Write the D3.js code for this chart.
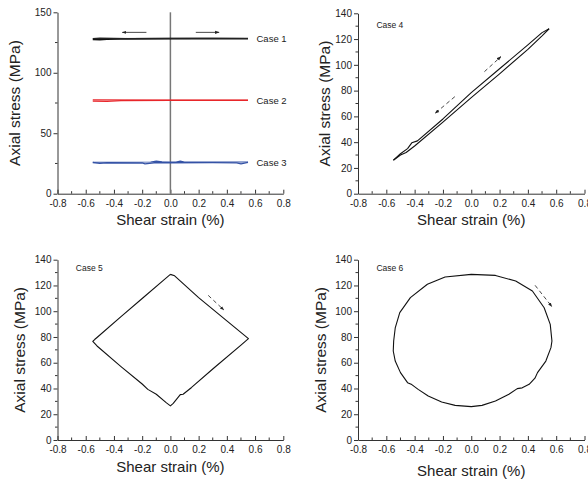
<!DOCTYPE html>
<html>
<head>
<meta charset="utf-8">
<script src="https://cdn.jsdelivr.net/npm/d3@7"></script>
<style>
body { margin: 0; background: #fff; }
svg { display: block; font-family: Arial, "Liberation Sans", sans-serif; }
</style>
</head>
<body>
<div id="chart"></div>
<script>
// ---- values ----
var xTicks = [-0.8, -0.6, -0.4, -0.2, 0.0, 0.2, 0.4, 0.6, 0.8];
var yTicksTop = [0, 50, 100, 150];
var yTicksOther = [0, 20, 40, 60, 80, 100, 120, 140];

// case 1-3 : constant axial stress, shear strain cycled
var case1Fwd = [[-0.55, 127.6], [-0.5, 127.3], [-0.45, 127.7], [-0.35, 128.0], [0, 128.2], [0.3, 128.2], [0.55, 128.1]];
var case1Back = [[0.55, 128.4], [0.2, 128.4], [-0.3, 128.3], [-0.5, 128.6], [-0.55, 128.2]];
var case2Fwd = [[-0.55, 76.6], [-0.45, 76.4], [-0.35, 76.9], [0, 77.1], [0.55, 77.2]];
var case2Back = [[0.55, 77.5], [0, 77.5], [-0.55, 77.6]];
var case3Fwd = [[-0.55, 25.8], [-0.5, 25.0], [-0.45, 25.6], [-0.2, 25.4], [-0.18, 24.7], [-0.1, 25.8], [0, 25.6], [0.3, 25.7], [0.47, 25.5], [0.5, 24.7], [0.55, 25.9]];
var case3Back = [[0.55, 26.2], [0.1, 26.1], [0.07, 26.9], [0.04, 26.2], [-0.06, 26.3], [-0.1, 27.0], [-0.14, 26.2], [-0.55, 26.0]];

// case 4 : in-phase loading
var case4Up = [[-0.55, 26], [-0.5, 31], [-0.45, 35], [-0.42, 39.5], [-0.38, 41], [-0.2, 58], [0, 78.5], [0.2, 97], [0.4, 115.5], [0.5, 125], [0.55, 128]];
var case4Down = [[0.55, 128], [0.5, 122.5], [0.4, 112], [0.2, 93], [0, 74.5], [-0.2, 55.5], [-0.4, 37], [-0.46, 32], [-0.5, 30], [-0.55, 26]];

// case 5 : diamond path
var case5Loop = [[0, 128.6], [0.03, 127.5], [0.2, 110.6], [0.4, 92.5], [0.553, 78.7], [0.5, 73.7], [0.3, 55.1],
  [0.15, 40.8], [0.09, 35.5], [0.07, 35.2], [0.05, 32.5], [0.02, 28.5], [0, 26.5], [-0.03, 29], [-0.1, 35.5],
  [-0.16, 39.3], [-0.2, 43.5], [-0.35, 57], [-0.52, 73], [-0.55, 76.5], [-0.535, 78.2], [-0.52, 79.6],
  [-0.35, 95.8], [-0.2, 109.9], [-0.05, 124], [0, 128.6]];

// case 6 : circular path
var case6Loop = [[-0.548, 76.9], [-0.537, 87], [-0.505, 98.9], [-0.43, 110.5], [-0.31, 120.9], [-0.185, 126.6],
  [0, 128.6], [0.171, 127.8], [0.314, 123.4], [0.432, 115.7], [0.515, 102.7], [0.558, 89.8], [0.57, 76.9],
  [0.563, 71.7], [0.527, 61.3], [0.468, 52.3], [0.45, 48], [0.409, 43.2], [0.36, 40.5], [0.325, 39.9],
  [0.266, 35.5], [0.171, 30.3], [0.076, 26.9], [0, 25.9], [-0.114, 26.9], [-0.209, 29.5], [-0.304, 34.2],
  [-0.375, 39.3], [-0.42, 43], [-0.45, 44.5], [-0.5, 52.3], [-0.537, 61.3], [-0.551, 69.1], [-0.548, 76.9]];

// direction arrows [from, to]
var arrows1 = [[[-0.17, 133.4], [-0.34, 133.4]], [[0.18, 133.4], [0.345, 133.4]]];
var arrows4 = [[[0.093, 94.7], [0.21, 106.4]], [[-0.116, 75.3], [-0.255, 62.4]]];
var arrows5 = [[[0.268, 112.3], [0.379, 100.9]]];
var arrows6 = [[[0.451, 120.1], [0.57, 103.5]]];

var panels = [
  { xr: [57.5, 283.3], yr: [193.7, 12.3], ymax: 150, yticks: yTicksTop, yminor: 25, titleX: 15, xTitleY: 225,
    series: [{ d: case1Fwd, c: "#111", w: 1.6 }, { d: case1Back, c: "#222", w: 1.2 },
             { d: case2Fwd, c: "#e8262b", w: 1.3 }, { d: case2Back, c: "#e8262b", w: 1.2 },
             { d: case3Fwd, c: "#3553a6", w: 1.3 }, { d: case3Back, c: "#3553a6", w: 1.2 }],
    labels: [{ t: "Case 1", x: 0.61, y: 128 }, { t: "Case 2", x: 0.61, y: 77 }, { t: "Case 3", x: 0.61, y: 26 }],
    arrows: arrows1, dashed: false, zeroLine: true },
  { xr: [358, 584.5], yr: [193.7, 13.3], ymax: 140, yticks: yTicksOther, yminor: 10, titleX: 325, xTitleY: 225,
    series: [{ d: case4Up, c: "#111", w: 1.1 }, { d: case4Down, c: "#111", w: 1.1 }],
    labels: [{ t: "Case 4", x: -0.67, y: 131, small: true }], arrows: arrows4, dashed: true },
  { xr: [57.5, 283.3], yr: [440, 259.7], ymax: 140, yticks: yTicksOther, yminor: 10, titleX: 20, xTitleY: 472,
    series: [{ d: case5Loop, c: "#111", w: 1.1 }],
    labels: [{ t: "Case 5", x: -0.67, y: 133.8, small: true }], arrows: arrows5, dashed: true },
  { xr: [358, 584.5], yr: [440, 259.7], ymax: 140, yticks: yTicksOther, yminor: 10, titleX: 321, xTitleY: 476,
    series: [{ d: case6Loop, c: "#111", w: 1.1 }],
    labels: [{ t: "Case 6", x: -0.67, y: 133.8, small: true }], arrows: arrows6, dashed: true }
];

var svg = d3.select("#chart").append("svg")
  .attr("width", 588).attr("height", 482);

svg.append("defs").append("marker")
  .attr("id", "head")
  .attr("viewBox", "0 0 10 10")
  .attr("refX", 9).attr("refY", 5)
  .attr("markerWidth", 5).attr("markerHeight", 5)
  .attr("orient", "auto")
  .append("path").attr("d", "M0,1.5L10,5L0,8.5Z").attr("fill", "#222");

var axisColor = "#333";

panels.forEach(function (p) {
  var x = d3.scaleLinear().domain([-0.8, 0.8]).range(p.xr);
  var y = d3.scaleLinear().domain([0, p.ymax]).range(p.yr);
  var g = svg.append("g");

  // minor ticks
  var xMinor = d3.range(-0.8, 0.81, 0.1).filter(function (v) { return Math.abs(Math.round(v * 10) % 2) === 1; });
  var yMinor = d3.range(p.yminor, p.ymax, p.yminor * 2);
  g.selectAll(".xm").data(xMinor).enter().append("line")
    .attr("x1", function (d) { return x(d); }).attr("x2", function (d) { return x(d); })
    .attr("y1", p.yr[0]).attr("y2", p.yr[0] - 2.5)
    .attr("stroke", axisColor).attr("stroke-width", 1);
  g.selectAll(".ym").data(yMinor).enter().append("line")
    .attr("x1", p.xr[0]).attr("x2", p.xr[0] - 2.5)
    .attr("y1", function (d) { return y(d); }).attr("y2", function (d) { return y(d); })
    .attr("stroke", axisColor).attr("stroke-width", 1);

  // x axis, ticks pointing inward
  var xa = g.append("g").attr("transform", "translate(0," + p.yr[0] + ")")
    .call(d3.axisBottom(x).tickValues(xTicks).tickFormat(d3.format(".1f")).tickSizeInner(-4).tickSizeOuter(0).tickPadding(6));
  // y axis
  var ya = g.append("g").attr("transform", "translate(" + p.xr[0] + ",0)")
    .call(d3.axisLeft(y).tickValues(p.yticks).tickSizeInner(4).tickSizeOuter(0).tickPadding(2));
  [xa, ya].forEach(function (a) {
    a.select(".domain").attr("stroke", axisColor);
    a.selectAll(".tick line").attr("stroke", axisColor);
    a.selectAll("text").attr("font-size", "10px").attr("fill", "#222")
      .attr("font-family", "Arial, 'Liberation Sans', sans-serif");
  });
  xa.selectAll("text").text(function (d) { return d3.format(".1f")(d).replace("−", "-"); });

  if (p.zeroLine) {
    g.append("line").attr("x1", x(0)).attr("x2", x(0))
      .attr("y1", y(0)).attr("y2", y(p.ymax))
      .attr("stroke", "#777").attr("stroke-width", 1.5);
  }

  var line = d3.line().x(function (d) { return x(d[0]); }).y(function (d) { return y(d[1]); });
  p.series.forEach(function (s) {
    g.append("path").datum(s.d).attr("d", line)
      .attr("fill", "none").attr("stroke", s.c).attr("stroke-width", s.w)
      .attr("stroke-linejoin", "round");
  });

  p.arrows.forEach(function (a) {
    g.append("line")
      .attr("x1", x(a[0][0])).attr("y1", y(a[0][1]))
      .attr("x2", x(a[1][0])).attr("y2", y(a[1][1]))
      .attr("stroke", "#333").attr("stroke-width", 0.9)
      .attr("stroke-dasharray", p.dashed ? "4,3" : null)
      .attr("marker-end", "url(#head)");
  });

  p.labels.forEach(function (l) {
    g.append("text")
      .attr("x", x(l.x)).attr("y", y(l.y))
      .attr("dy", "0.35em")
      .attr("font-size", l.small ? "8.5px" : "9.5px")
      .attr("fill", "#222")
      .text(l.t);
  });

  // axis titles
  g.append("text")
    .attr("transform", "translate(" + p.titleX + "," + ((p.yr[0] + p.yr[1]) / 2) + ") rotate(-90)")
    .attr("text-anchor", "middle").attr("dy", "0.35em")
    .attr("font-size", "15.5px").attr("fill", "#222")
    .text("Axial stress (MPa)");
  g.append("text")
    .attr("x", x(0)).attr("y", p.xTitleY)
    .attr("text-anchor", "middle")
    .attr("font-size", "15px").attr("fill", "#222")
    .text("Shear strain (%)");
});
</script>
</body>
</html>
